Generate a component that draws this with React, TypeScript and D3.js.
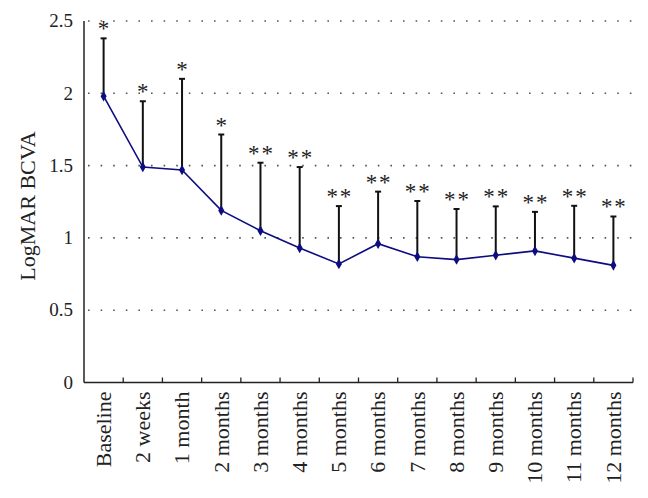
import React from "react";
import * as d3 from "d3";

const categories = ["Baseline", "2 weeks", "1 month", "2 months", "3 months", "4 months", "5 months", "6 months", "7 months", "8 months", "9 months", "10 months", "11 months", "12 months"];
const means = [1.98, 1.49, 1.47, 1.19, 1.05, 0.93, 0.82, 0.96, 0.87, 0.85, 0.88, 0.91, 0.86, 0.81];
const upper = [2.38, 1.945, 2.1, 1.715, 1.52, 1.49, 1.22, 1.32, 1.255, 1.2, 1.218, 1.18, 1.222, 1.148];
const starCounts = [1, 1, 1, 1, 2, 2, 2, 2, 2, 2, 2, 2, 2, 2];
const yTicks = [0, 0.5, 1, 1.5, 2, 2.5];
const yTickLabels = ["0", "0.5", "1", "1.5", "2", "2.5"];

const W = 648, H = 498;
const left = 84, right = 633, top = 21, bottom = 382.5;
const font = "'Liberation Serif', 'Times New Roman', serif";
const navy = "#0d0d80";

export default function App() {
  const x = d3.scaleBand<string>().domain(categories).range([left, right]).padding(0);
  const y = d3.scaleLinear().domain([0, 2.5]).range([bottom, top]);
  const cx = (i: number) => (x(categories[i]) as number) + x.bandwidth() / 2;
  const line = d3.line<number>().x((_, i) => cx(i)).y((d) => y(d));
  const diamond = d3.symbol().type(d3.symbolDiamond).size(32)();

  return (
    <svg width={W} height={H} style={{ position: "absolute", left: 0, top: 0, background: "#fff" }} fontFamily={font}>
      {yTicks.filter((t) => t > 0).map((t) => (
        <line key={"g" + t} x1={left + 4} x2={right} y1={y(t)} y2={y(t)} stroke="#555" strokeWidth={1.6} strokeDasharray="1.6,11" />
      ))}
      {yTicks.map((t, i) => (
        <text key={"yl" + t} x={73} y={y(t)} dy="0.33em" textAnchor="end" fontSize={19} fill="#222">{yTickLabels[i]}</text>
      ))}
      <line x1={left} x2={left} y1={top} y2={bottom} stroke="#222" strokeWidth={1.5} />
      <line x1={left} x2={right} y1={bottom} y2={bottom} stroke="#222" strokeWidth={1.5} />
      {categories.map((c) => (
        <line key={"xt" + c} x1={(x(c) as number) + x.bandwidth()} x2={(x(c) as number) + x.bandwidth()} y1={bottom} y2={bottom - 5} stroke="#222" strokeWidth={1.3} />
      ))}
      {categories.map((c, i) => (
        <text key={"xl" + c} transform={`translate(${cx(i)},${bottom + 9}) rotate(-90)`} dy="0.33em" textAnchor="end" fontSize={22} fill="#222">{c}</text>
      ))}
      <text transform={`translate(28,206) rotate(-90)`} dy="0.33em" textAnchor="middle" fontSize={22} fill="#222">LogMAR BCVA</text>
      {means.map((m, i) => (
        <g key={"eb" + i}>
          <line x1={cx(i)} x2={cx(i)} y1={y(m)} y2={y(upper[i])} stroke="#111" strokeWidth={2} />
          <line x1={cx(i) - 3} x2={cx(i) + 3} y1={y(upper[i])} y2={y(upper[i])} stroke="#111" strokeWidth={2} />
          {(starCounts[i] === 1 ? [0] : [-6.7, 6.7]).map((o) => (
            <text key={o} x={cx(i) + o} y={y(upper[i]) - 2} textAnchor="middle" fontSize={23} fill="#222">*</text>
          ))}
        </g>
      ))}
      <path d={line(means) as string} fill="none" stroke={navy} strokeWidth={1.6} />
      {means.map((m, i) => (
        <path key={"pt" + i} d={diamond as string} transform={`translate(${cx(i)},${y(m)})`} fill={navy} />
      ))}
    </svg>
  );
}
